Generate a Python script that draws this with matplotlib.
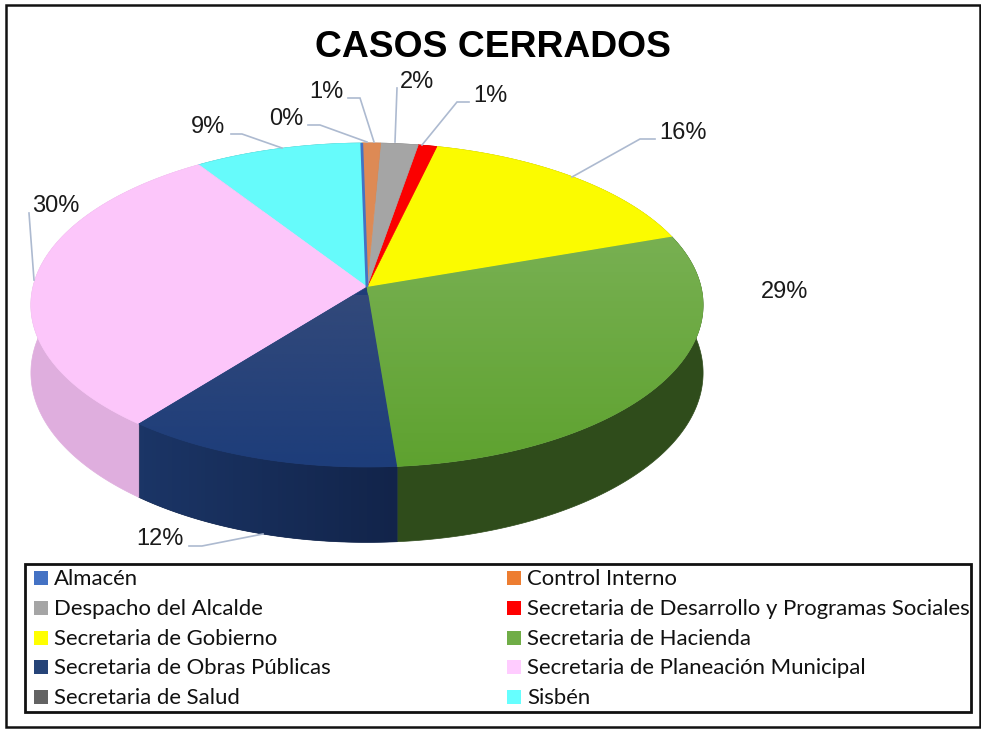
import numpy as np
import matplotlib
matplotlib.use("Agg")
import matplotlib.pyplot as plt
from matplotlib.colors import LinearSegmentedColormap
from matplotlib.patches import Polygon, Rectangle

# Data ==============================================
categories = ["Almacén", "Control Interno", "Despacho del Alcalde",
              "Secretaria de Desarrollo y Programas Sociales",
              "Secretaria de Gobierno", "Secretaria de Hacienda",
              "Secretaria de Obras Públicas",
              "Secretaria de Planeación Municipal",
              "Secretaria de Salud", "Sisbén"]
percent = [0, 1, 2, 1, 16, 29, 12, 30, 0, 9]

top_colors = ["#4472c4", "#dd8a55", "#a5a5a5", "#fb0000", "#fbfb00",
              "#6ca944", "#1f3d78", "#fcc6fa", "#636363", "#66fbfb"]
side_colors = ["#2c4a80", "#9a5a30", "#707070", "#a00000", "#a0a000",
               "#2f4c1b", "#15294f", "#dfaede", "#444444", "#40a0a0"]
legend_colors = ["#4472c4", "#ed7d31", "#a5a5a5", "#ff0000", "#ffff00",
                 "#70ad47", "#264478", "#ffccff", "#636363", "#66ffff"]

# Labels that get shown, with a leader line where there is one
label_text = ["9%", "0%", "1%", "2%", "1%", "16%", "29%", "12%", "30%"]
label_xy = [(208, 127), (286, 119), (326, 92), (417, 82), (490, 96),
            (683, 133), (785, 292), (160, 539), (56, 206)]
leaders = [[(231, 134), (242, 134), (282, 148)],
           [(308, 125), (320, 125), (367, 142)],
           [(348, 98), (360, 98), (374, 142)],
           [(397, 88), (395, 142)],
           [(469, 102), (457, 102), (422, 145)],
           [(655, 139), (640, 139), (572, 177)],
           None,
           [(189, 546), (202, 546), (263, 534)],
           [(29, 213), (34, 280)]]

# Pie geometry (pixels) =============================
cx, cy = 367, 287
R = 334       # horizontal radius
K = 160       # vertical radius
D = 67        # thickness of the pie
view = 9      # viewer distance, in radii
start = -1    # degrees, first slice starts here going clockwise


def project(theta, drop=0.0):
    # theta in degrees clockwise from the top of the disc
    t = np.radians(theta)
    x = np.sin(t)
    y = -np.cos(t)
    s = view / (view - y)
    return cx + R * x * s, cy + (K * y + drop) * s


def rim_poly(a, b):
    th = np.linspace(a, b, max(2, int(b - a) * 2 + 2))
    X, Y = project(th)
    return np.column_stack((np.r_[cx, X], np.r_[cy, Y]))


def wall_poly(a, b):
    th = np.linspace(a, b, max(2, int(b - a) * 2 + 2))
    X0, Y0 = project(th)
    X1, Y1 = project(th, D)
    return np.column_stack((np.r_[X0, X1[::-1]], np.r_[Y0, Y1[::-1]]))


def shade_poly(pts, c0, c1, box, z, along_x=False):
    # gradient image clipped to a polygon
    clip = Polygon(pts, closed=True, transform=ax.transData,
                   facecolor="none", edgecolor="none")
    ax.add_patch(clip)
    cmap = LinearSegmentedColormap.from_list("g", [c0, c1])
    ramp = np.linspace(0, 1, 64)
    ramp = ramp.reshape(1, -1) if along_x else ramp.reshape(-1, 1)
    im = ax.imshow(ramp, cmap=cmap, extent=box, aspect="auto", zorder=z)
    im.set_clip_path(clip)


plt.rcParams['font.family'] = ['Liberation Sans', 'DejaVu Sans']
fig = plt.figure(figsize=(9.81, 7.29), dpi=100)
ax = fig.add_axes([0, 0, 1, 1])
ax.set_xlim(0, 981)
ax.set_ylim(729, 0)
ax.axis("off")

edges = start + np.r_[0, np.cumsum(percent)] * 3.6

# Outer wall of the pie
for i in range(len(percent)):
    a, b = edges[i], edges[i + 1]
    if b <= a:
        continue
    ax.add_patch(Polygon(wall_poly(a, b), closed=True,
                         facecolor=side_colors[i], edgecolor=side_colors[i],
                         linewidth=0.5, zorder=2))
shade_poly(wall_poly(edges[6], edges[7]), "#1b3566", "#12244a",
           (140, 400, 545, 420), 2.5, along_x=True)

# Top faces, the empty first slice stays as a hairline
draw_order = [9, 7, 6, 5, 4, 3, 2, 1, 0]
for i in draw_order:
    lw = 2.0 if percent[i] == 0 else 0.5
    ax.add_patch(Polygon(rim_poly(edges[i], edges[i + 1]), closed=True,
                         facecolor=top_colors[i], edgecolor=top_colors[i],
                         linewidth=lw, zorder=3))

# Soft vertical gradients on the two large dark faces
shade_poly(rim_poly(edges[5], edges[6]), "#78b052", "#5ea22f",
           (cx - 20, cx + R + 10, 470, 235), 3.5)
shade_poly(rim_poly(edges[6], edges[7]), "#32497a", "#1d3d7a",
           (cx - R, cx + 40, 470, 295), 3.5)
ax.set_xlim(0, 981)
ax.set_ylim(729, 0)

# Labels and leader lines
for txt, (lx, ly), line in zip(label_text, label_xy, leaders):
    ax.text(lx, ly, txt, fontsize=17, ha="center", va="center",
            color="#1a1a1a", zorder=6)
    if line is not None:
        ax.plot([p[0] for p in line], [p[1] for p in line], color="#adbad0",
                lw=1.2, zorder=5, solid_joinstyle="miter")

ax.text(493, 47, "CASOS CERRADOS", fontsize=26.8, fontweight="bold",
        ha="center", va="center", color="black", zorder=6)

# Legend box, filled across then down
ax.add_patch(Rectangle((25, 564), 946, 148, facecolor="white",
                       edgecolor="#111111", linewidth=2.0, zorder=4))
col_x = [34, 507]
row_y = [579, 609, 639, 668, 698]
for i, name in enumerate(categories):
    mx = col_x[i % 2]
    my = row_y[i // 2]
    ax.add_patch(Rectangle((mx, my - 8), 14, 14, facecolor=legend_colors[i],
                           edgecolor="none", zorder=5))
    ax.text(mx + 20, my, name, fontsize=15.9, family=["Lato", "DejaVu Sans"],
            ha="left", va="center", color="#111111", zorder=6)

# Outer frame of the chart
ax.add_patch(Rectangle((6, 5), 974, 722, facecolor="none", edgecolor="#111111",
                       linewidth=1.8, zorder=7))

fig.savefig("out.png", dpi=100, facecolor="white")
